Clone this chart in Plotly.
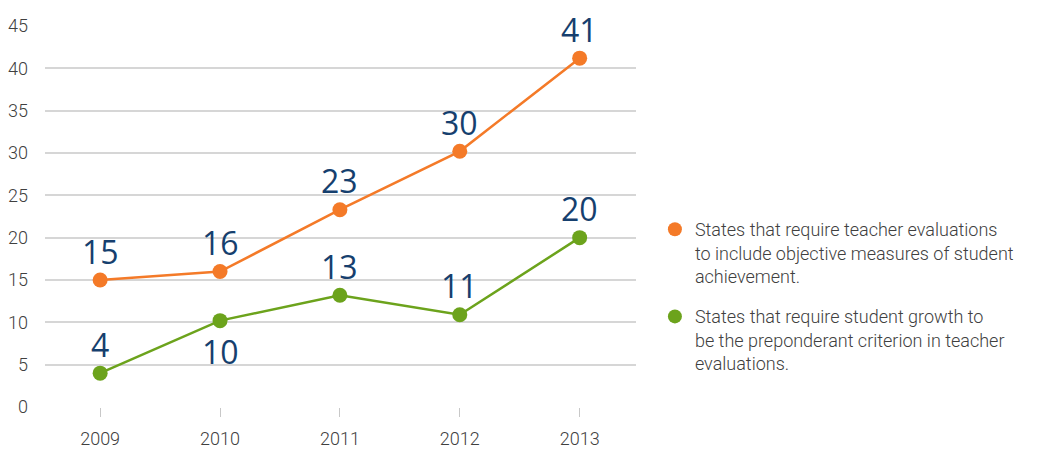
import plotly.graph_objects as go

years = ["2009", "2010", "2011", "2012", "2013"]
objective = [15, 16, 23.3, 30.2, 41.2]
objective_labels = ["15", "16", "23", "30", "41"]
growth = [4, 10.2, 13.2, 10.9, 20]
growth_labels = ["4", "10", "13", "11", "20"]
growth_label_above = [True, False, True, True, True]
y_ticks = [0, 5, 10, 15, 20, 25, 30, 35, 40, 45]
legend_names = [
    "States that require teacher evaluations<br>to include objective measures of student<br>achievement.",
    "States that require student growth to<br>be the preponderant criterion in teacher<br>evaluations.",
]

ORANGE = "#F47A28"
GREEN = "#6CA31C"
LABEL = "#163F6E"
TICKFONT = "Roboto, sans-serif"
LABELFONT = dict(size=32, color=LABEL, family="Open Sans, sans-serif", weight=400)

fig = go.Figure()
fig.add_trace(go.Scatter(
    x=years, y=objective, mode="lines+markers",
    line=dict(color=ORANGE, width=2.5), marker=dict(size=15, color=ORANGE),
    showlegend=False, cliponaxis=False,
))
fig.add_trace(go.Scatter(
    x=years, y=growth, mode="lines+markers",
    line=dict(color=GREEN, width=2.5), marker=dict(size=15, color=GREEN),
    showlegend=False, cliponaxis=False,
))
for i, (name, col) in enumerate(zip(legend_names, [ORANGE, GREEN])):
    fig.add_trace(go.Scatter(
        x=[None], y=[None], mode="markers", name=name, legendgroup=f"g{i}",
        marker=dict(size=14, color=col), showlegend=True,
    ))

# category axis: annotation x uses the category's serial index
for idx, (yv, t) in enumerate(zip(objective, objective_labels)):
    fig.add_annotation(x=idx, y=yv, text=t, showarrow=False, font=dict(LABELFONT),
                       yanchor="middle", yshift=29)
for idx, (yv, t, above) in enumerate(zip(growth, growth_labels, growth_label_above)):
    fig.add_annotation(x=idx, y=yv, text=t, showarrow=False, font=dict(LABELFONT),
                       yanchor="middle", yshift=29 if above else -31)

fig.update_layout(
    width=1035, height=441,
    margin=dict(l=37, r=407, t=18, b=42, autoexpand=False),
    plot_bgcolor="white", paper_bgcolor="white",
    font=dict(family=TICKFONT, size=18, color="#404040", weight=300),
    legend=dict(
        x=1.032, y=0.29, xanchor="left", yanchor="middle", valign="top",
        font=dict(family=TICKFONT, size=18, color="#404040", weight=300),
        tracegroupgap=14, itemwidth=30,
    ),
    xaxis=dict(
        type="category", range=[-0.46, 4.47],
        showgrid=False, showline=False, zeroline=False,
        ticks="outside", ticklen=9, tickcolor="#c8c8c8", tickwidth=1,
        ticklabelstandoff=6,
        tickfont=dict(family=TICKFONT, size=18, color="#404040", weight=300),
    ),
    yaxis=dict(
        range=[0, 45], tickvals=y_ticks,
        showgrid=True, gridcolor="#d6d6d6", gridwidth=1.5,
        zeroline=False, showline=False,
        ticks="", ticklabelstandoff=16,
        tickfont=dict(family=TICKFONT, size=18, color="#404040", weight=300),
    ),
)
fig.write_html("out.html")
